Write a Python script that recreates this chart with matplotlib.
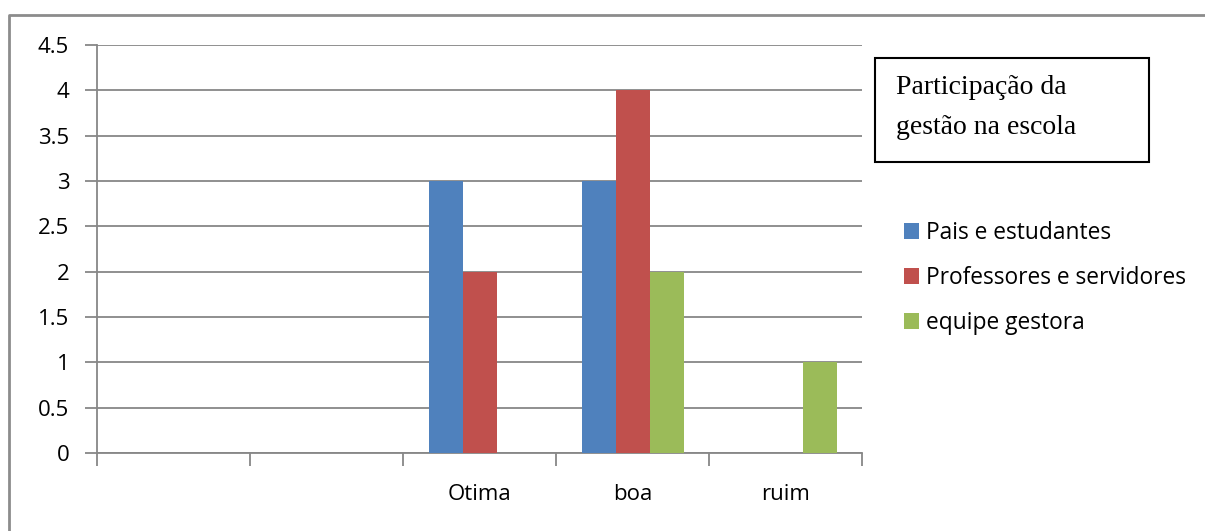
import numpy as np
import matplotlib.pyplot as plt
from matplotlib.patches import Rectangle
from matplotlib.lines import Line2D

plt.rcParams['font.family'] = ['Open Sans', 'DejaVu Sans']

# Data
categories = ['', '', 'Otima', 'boa', 'ruim']
pais = [0, 0, 3, 3, 0]
professores = [0, 0, 2, 4, 0]
equipe = [0, 0, 0, 2, 1]
series_names = ['Pais e estudantes', 'Professores e servidores', 'equipe gestora']
colors = ['#4F81BD', '#C0504D', '#9BBB59']

W, H = 1205, 531
fig = plt.figure(figsize=(W / 100, H / 100), dpi=100)
ax = fig.add_axes([97 / W, 1 - 453 / H, 765 / W, 408 / H])

x = np.arange(len(categories))
bw = 1 / 4.5
for i, (vals, name, c) in enumerate(zip([pais, professores, equipe], series_names, colors)):
    ax.bar(x + (i - 1) * bw, vals, bw, color=c, label=name, zorder=3)

ax.set_xlim(-0.5, len(categories) - 0.5)
ax.set_ylim(0, 4.5)
ax.set_yticks(np.arange(0, 4.51, 0.5))
ax.set_yticklabels(['0', '0.5', '1', '1.5', '2', '2.5', '3', '3.5', '4', '4.5'])
ax.yaxis.grid(True, color='#878787', linewidth=1.3, zorder=0)

# category boundaries get the tick marks, labels sit in between
ax.set_xticks(np.arange(-0.5, len(categories), 1))
ax.set_xticklabels([])
ax.set_xticks(x, minor=True)
ax.set_xticklabels(categories, minor=True)
ax.tick_params(axis='x', which='major', length=9, width=1.3, color='#878787')
ax.tick_params(axis='x', which='minor', length=0, pad=22, labelsize=16)
ax.tick_params(axis='y', length=9, width=1.3, color='#878787', pad=11, labelsize=16)

for s in ['top', 'right']:
    ax.spines[s].set_visible(False)
for s in ['left', 'bottom']:
    ax.spines[s].set_color('#878787')
    ax.spines[s].set_linewidth(1.3)

ax.legend(loc='upper left', bbox_to_anchor=(904 / W, 1 - 221 / H), bbox_transform=fig.transFigure,
          frameon=False, fontsize=16.4, handlelength=0.66, handleheight=0.66, handletextpad=0.3,
          labelspacing=0.92, borderpad=0, borderaxespad=0)

# title box
fig.patches.append(Rectangle((875 / W, 1 - 162 / H), 274 / W, 104 / H, transform=fig.transFigure,
                             fill=False, edgecolor='black', linewidth=1.5))
fig.text(896 / W, 1 - 88 / H, 'Participação da', family='Liberation Serif', fontsize=20, va='center')
fig.text(896 / W, 1 - 128 / H, 'gestão na escola', family='Liberation Serif', fontsize=20, va='center')

# outer chart border
fig.lines.append(Line2D([9 / W, 9 / W, 1], [0, 1 - 15 / H, 1 - 15 / H], transform=fig.transFigure,
                        color='#8c8c8c', linewidth=2))

fig.savefig('out.png', dpi=100)
